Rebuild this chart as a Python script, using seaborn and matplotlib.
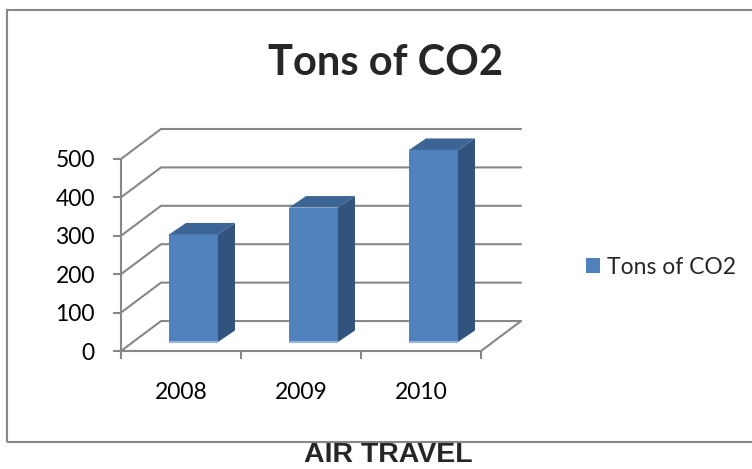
import numpy as np
import pandas as pd
import matplotlib
matplotlib.use('Agg')
import matplotlib.pyplot as plt
import seaborn as sns
from matplotlib.patches import Polygon, Rectangle, Patch

# ---- data ----
years = ['2008', '2009', '2010']
tons = [280, 350, 500]
series_name = 'Tons of CO2'
y_ticks = [0, 100, 200, 300, 400, 500]
chart_title = 'Tons of CO2'
caption = 'AIR TRAVEL'

sns.set_theme(style='white')
plt.rcParams['font.family'] = ['Lato', 'DejaVu Sans']

GRID = '#878787'
FRONT = '#4F81BD'
SIDE = '#33537F'
TOP = '#3C6494'
BOTTOM = '#95B3D7'

fig = plt.figure(figsize=(7.52, 4.69), dpi=100)
ax = fig.add_axes([121/752, 1-351/469, 400/752, 222/469])

DX, DY = 1/3, 78.0           # depth of the back wall (data units)
BAR_W, BAR_OFF, BAR_LIFT = 0.408, 0.104, 23.4
BAR_DX, BAR_DY = 0.142, 30.0  # bar depth

df = pd.DataFrame({'year': years, 'tons': tons})
sns.barplot(data=df, x='year', y='tons', color=FRONT, saturation=1,
            width=BAR_W, errorbar=None, linewidth=0, zorder=3, ax=ax)

for p in list(ax.patches):
    x0 = p.get_x() + BAR_OFF
    w = p.get_width()
    h = p.get_height()
    p.set_x(x0)
    p.set_y(BAR_LIFT)
    side = Polygon([(x0+w, BAR_LIFT), (x0+w+BAR_DX, BAR_LIFT+BAR_DY),
                    (x0+w+BAR_DX, BAR_LIFT+h+BAR_DY), (x0+w, BAR_LIFT+h)],
                   closed=True, facecolor=SIDE, edgecolor='none', zorder=3)
    top = Polygon([(x0, BAR_LIFT+h), (x0+BAR_DX, BAR_LIFT+h+BAR_DY),
                   (x0+w+BAR_DX, BAR_LIFT+h+BAR_DY), (x0+w, BAR_LIFT+h)],
                  closed=True, facecolor=TOP, edgecolor='none', zorder=3)
    ax.add_patch(side)
    ax.add_patch(top)
    ax.plot([x0, x0+w], [BAR_LIFT, BAR_LIFT], color=BOTTOM, lw=1.5, zorder=4,
            solid_capstyle='butt')

# walls / gridlines
for v in y_ticks:
    ax.plot([-0.5, -0.5+DX, 2.5+DX], [v, v+DY, v+DY], color=GRID, lw=1.5,
            zorder=1, clip_on=False, solid_joinstyle='miter')
ax.plot([-0.5, -0.5], [0, y_ticks[-1]], color=GRID, lw=1.5, zorder=2, clip_on=False)
ax.plot([-0.5, 2.5, 2.5+DX], [0, 0, DY], color=GRID, lw=1.5, zorder=2,
        clip_on=False, solid_joinstyle='miter')

ax.set_xlim(-0.5, 2.5+DX)
ax.set_ylim(0, y_ticks[-1]+DY)
for s in ax.spines.values():
    s.set_visible(False)
ax.set_xlabel('')
ax.set_ylabel('')

ax.set_yticks(y_ticks)
ax.tick_params(axis='y', left=True, length=5.8, width=1.5, color=GRID,
               pad=13, labelsize=16.5, labelcolor='black')
ax.set_xticks([0, 1, 2])
ax.set_xticklabels(years)
ax.set_xticks([-0.5, 0.5, 1.5, 2.5], minor=True)
ax.tick_params(axis='x', which='major', bottom=False, length=0, pad=22,
               labelsize=16.5, labelcolor='black')
ax.tick_params(axis='x', which='minor', bottom=True, length=5.8, width=1.5,
               color=GRID)

# legend
fig.legend(handles=[Patch(facecolor=FRONT, edgecolor='none')], labels=[series_name],
           loc='center left', bbox_to_anchor=(586/752, 1-267/469), frameon=False,
           handlelength=0.62, handleheight=0.62, handletextpad=0.3,
           borderpad=0, borderaxespad=0, fontsize=16.5)

# title & caption
fig.text(386/752, 1-75/469, chart_title, ha='center', va='baseline',
         fontsize=30, fontweight='bold')
fig.text(388/752, 0.6/469, caption, ha='center', va='bottom',
         fontsize=20.5, fontweight='bold',
         family=['Liberation Sans Narrow', 'Liberation Sans', 'DejaVu Sans'])

# chart border
fig.add_artist(Rectangle((7/752, 1-442/469), 1.0, (442-10)/469,
                         transform=fig.transFigure, fill=False,
                         edgecolor='#888888', lw=1.5))

fig.savefig('out.png', dpi=100)
